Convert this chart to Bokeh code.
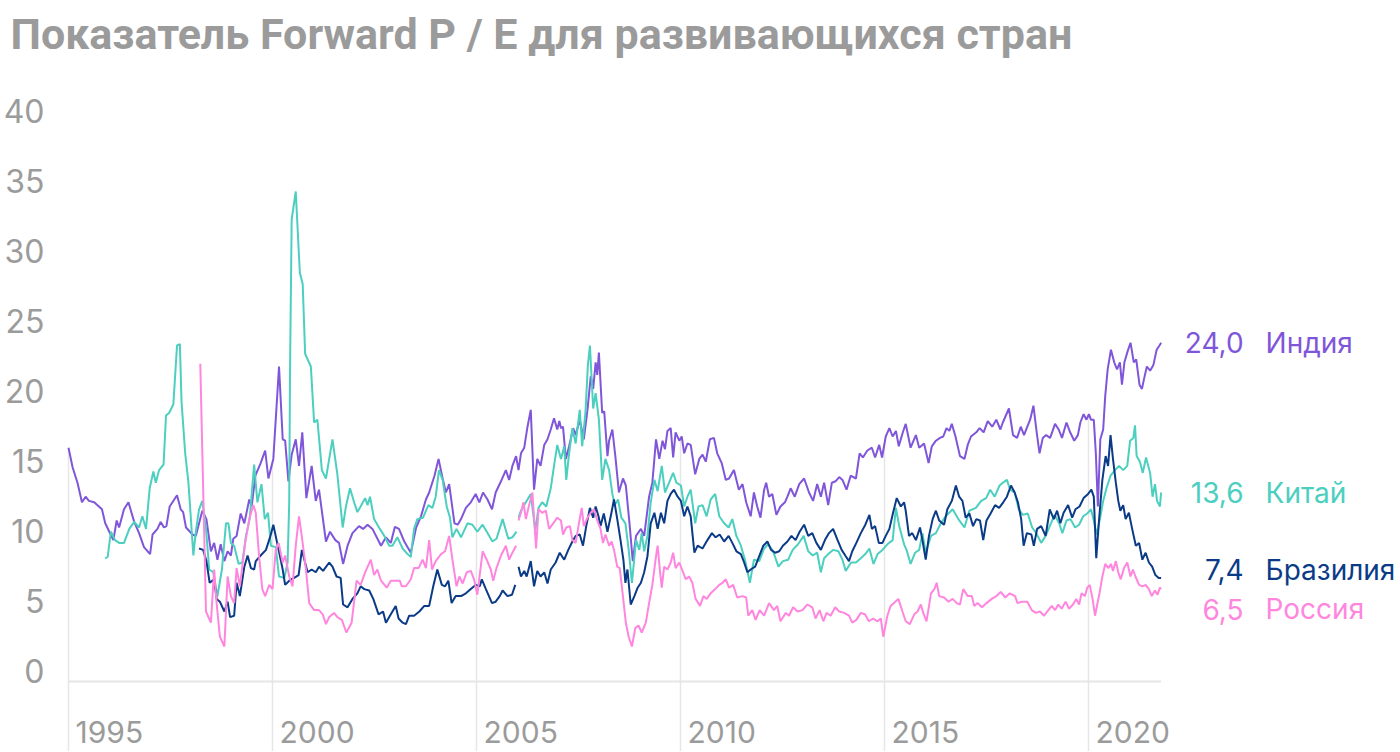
import numpy as np
from bokeh.plotting import figure
from bokeh.models import Range1d, LinearAxis, FixedTicker
from bokeh.core.properties import value
from bokeh.embed import file_html
from bokeh.resources import INLINE

nan = float("nan")

# ---------------- data (decimal year, forward P/E) ----------------
INDIA = [
    (1995.00, 16.7), (1995.10, 15.3), (1995.22, 14.2), (1995.33, 12.8), (1995.42, 13.2), (1995.50, 12.9),
    (1995.63, 12.8), (1995.82, 12.3), (1995.90, 11.3), (1996.00, 10.7), (1996.10, 10.1), (1996.18, 11.5),
    (1996.24, 11.0), (1996.36, 12.3), (1996.47, 12.8), (1996.61, 11.4), (1996.73, 10.6), (1996.85, 9.6),
    (1997.00, 9.1), (1997.06, 10.5), (1997.18, 10.9), (1997.26, 11.4), (1997.34, 11.0), (1997.40, 11.1),
    (1997.48, 12.5), (1997.66, 13.3), (1997.75, 12.3), (1997.81, 12.1), (1997.88, 11.0), (1998.04, 10.5),
    (1998.12, 10.4), (1998.28, 12.2), (1998.38, 11.6), (1998.49, 9.3), (1998.57, 9.9), (1998.65, 8.7),
    (1998.73, 9.8), (1998.82, 8.6), (1998.90, 9.3), (1998.98, 9.0), (1999.04, 10.2), (1999.12, 10.4),
    (1999.22, 12.0), (1999.31, 11.3), (1999.43, 13.0), (1999.49, 12.5), (1999.58, 14.7), (1999.71, 15.6),
    (1999.82, 16.5), (1999.90, 14.5), (2000.02, 15.9), (2000.16, 22.5), (2000.25, 17.3), (2000.31, 17.2),
    (2000.39, 14.3), (2000.47, 16.2), (2000.57, 17.3), (2000.65, 15.4), (2000.73, 17.8), (2000.83, 13.1),
    (2000.96, 15.4), (2001.06, 12.9), (2001.14, 13.7), (2001.31, 10.0), (2001.41, 10.7), (2001.54, 10.1),
    (2001.63, 9.9), (2001.73, 8.4), (2001.84, 9.7), (2001.96, 10.6), (2002.12, 11.1), (2002.22, 10.9),
    (2002.33, 11.2), (2002.45, 10.9), (2002.66, 9.7), (2002.78, 10.3), (2002.90, 9.9), (2003.00, 11.05),
    (2003.10, 10.9), (2003.23, 10.0), (2003.39, 9.2), (2003.52, 11.0), (2003.64, 11.8), (2003.76, 13.0),
    (2003.84, 13.5), (2003.97, 14.7), (2004.07, 15.9), (2004.17, 14.5), (2004.25, 13.5), (2004.33, 14.1),
    (2004.46, 11.3), (2004.54, 11.2), (2004.62, 11.6), (2004.74, 12.4), (2004.86, 12.8), (2004.98, 13.4),
    (2005.07, 12.8), (2005.16, 13.5), (2005.27, 13.0), (2005.38, 12.3), (2005.47, 13.5), (2005.60, 14.3),
    (2005.72, 15.1), (2005.80, 14.4), (2005.88, 15.4), (2005.97, 16.1), (2006.03, 15.1), (2006.09, 16.3),
    (2006.17, 16.7), (2006.25, 18.2), (2006.33, 19.4), (2006.41, 13.7), (2006.49, 15.9), (2006.57, 15.4),
    (2006.66, 16.9), (2006.74, 17.3), (2006.82, 18.0), (2006.90, 18.8), (2006.98, 18.0), (2007.03, 18.6),
    (2007.07, 18.1), (2007.12, 18.2), (2007.19, 15.9), (2007.27, 16.8), (2007.37, 18.1), (2007.43, 17.6),
    (2007.53, 18.7), (2007.63, 17.3), (2007.72, 19.4), (2007.80, 21.8), (2007.86, 20.9), (2007.92, 22.8),
    (2007.96, 21.9), (2008.00, 23.5), (2008.08, 19.2), (2008.13, 19.3), (2008.21, 16.1), (2008.25, 17.2),
    (2008.33, 18.0), (2008.41, 15.9), (2008.49, 13.5), (2008.59, 14.5), (2008.66, 14.0), (2008.75, 11.3),
    (2008.83, 8.6), (2008.91, 10.4), (2009.03, 10.9), (2009.11, 10.4), (2009.23, 13.2), (2009.31, 14.2),
    (2009.40, 17.3), (2009.48, 15.9), (2009.56, 17.2), (2009.62, 16.6), (2009.68, 17.9), (2009.76, 18.1),
    (2009.82, 16.0), (2009.88, 17.8), (2009.97, 17.2), (2010.03, 17.5), (2010.09, 16.3), (2010.17, 17.0),
    (2010.25, 16.9), (2010.36, 14.8), (2010.46, 15.9), (2010.54, 16.2), (2010.62, 15.7), (2010.72, 17.3),
    (2010.82, 17.4), (2010.90, 16.3), (2011.01, 15.6), (2011.11, 14.4), (2011.19, 14.5), (2011.31, 15.1),
    (2011.43, 13.7), (2011.52, 14.1), (2011.61, 12.8), (2011.72, 11.8), (2011.80, 13.5), (2011.88, 12.5),
    (2011.96, 11.7), (2012.05, 13.7), (2012.10, 14.2), (2012.17, 13.2), (2012.25, 13.4), (2012.35, 11.9),
    (2012.45, 12.5), (2012.56, 12.8), (2012.62, 13.2), (2012.70, 13.8), (2012.80, 13.2), (2012.91, 14.1),
    (2013.03, 14.5), (2013.15, 13.5), (2013.25, 12.9), (2013.35, 14.1), (2013.44, 13.2), (2013.52, 14.2),
    (2013.62, 12.6), (2013.71, 14.2), (2013.80, 14.3), (2013.89, 14.6), (2013.97, 14.4), (2014.07, 13.7),
    (2014.17, 14.7), (2014.30, 14.5), (2014.39, 16.3), (2014.47, 16.0), (2014.58, 16.5), (2014.69, 16.7),
    (2014.77, 16.0), (2014.87, 16.9), (2014.94, 16.0), (2015.03, 17.5), (2015.12, 18.1), (2015.20, 17.5),
    (2015.28, 17.9), (2015.35, 16.8), (2015.45, 17.8), (2015.52, 18.4), (2015.64, 16.7), (2015.77, 17.6),
    (2015.85, 16.7), (2015.97, 17.0), (2016.08, 15.6), (2016.16, 16.8), (2016.26, 17.2), (2016.36, 17.4),
    (2016.44, 17.5), (2016.52, 18.1), (2016.59, 17.9), (2016.65, 18.4), (2016.74, 17.5), (2016.85, 16.1),
    (2016.96, 15.9), (2017.04, 16.9), (2017.12, 17.5), (2017.25, 17.8), (2017.33, 18.1), (2017.43, 17.8),
    (2017.53, 18.6), (2017.64, 18.2), (2017.74, 18.7), (2017.84, 18.0), (2017.90, 18.5), (2018.05, 19.5),
    (2018.15, 17.6), (2018.25, 17.4), (2018.34, 18.2), (2018.42, 17.6), (2018.50, 18.2), (2018.57, 18.7),
    (2018.65, 19.7), (2018.73, 17.8), (2018.80, 16.3), (2018.88, 17.4), (2018.96, 17.6), (2019.06, 17.4),
    (2019.18, 18.4), (2019.27, 18.0), (2019.35, 17.4), (2019.46, 18.5), (2019.55, 17.8), (2019.65, 17.2),
    (2019.74, 17.6), (2019.80, 18.5), (2019.88, 19.1), (2019.95, 18.7), (2020.01, 19.1), (2020.06, 18.7),
    (2020.13, 18.7), (2020.18, 16.3), (2020.23, 12.5), (2020.29, 17.3), (2020.36, 18.0), (2020.41, 20.4),
    (2020.47, 22.3), (2020.55, 23.7), (2020.63, 22.8), (2020.70, 22.3), (2020.77, 22.8), (2020.82, 21.2),
    (2020.88, 22.8), (2020.96, 23.6), (2021.03, 24.2), (2021.11, 22.8), (2021.17, 23.0), (2021.25, 21.2),
    (2021.31, 20.9), (2021.36, 21.6), (2021.43, 22.5), (2021.51, 22.2), (2021.59, 22.6), (2021.67, 23.7),
    (2021.74, 24.0), (2021.78, 24.2),
]

CHINA = [
    (1995.90, 8.8), (1995.96, 8.9), (1996.04, 10.7), (1996.14, 10.1), (1996.24, 9.9), (1996.36, 9.9),
    (1996.49, 10.9), (1996.61, 11.4), (1996.73, 11.0), (1996.81, 11.8), (1996.90, 10.9), (1996.99, 13.8),
    (1997.08, 15.0), (1997.14, 14.2), (1997.22, 15.1), (1997.33, 15.5), (1997.39, 19.0), (1997.47, 19.2),
    (1997.57, 19.8), (1997.66, 24.0), (1997.73, 24.1), (1997.77, 20.0), (1997.86, 16.3), (1997.94, 14.2),
    (1998.06, 9.0), (1998.12, 10.7), (1998.20, 12.3), (1998.28, 12.9), (1998.37, 10.9), (1998.45, 8.0),
    (1998.55, 7.8), (1998.65, 6.1), (1998.76, 8.0), (1998.86, 11.3), (1998.92, 11.3), (1998.98, 9.9),
    (1999.06, 9.7), (1999.17, 8.4), (1999.26, 8.5), (1999.35, 10.4), (1999.44, 11.6), (1999.55, 15.5),
    (1999.63, 12.8), (1999.73, 14.1), (1999.81, 11.6), (1999.89, 12.05), (1999.96, 9.7), (2000.08, 9.6),
    (2000.16, 7.5), (2000.29, 7.4), (2000.37, 8.5), (2000.41, 12.8), (2000.43, 22.3), (2000.47, 33.0),
    (2000.57, 35.0), (2000.67, 29.2), (2000.74, 28.4), (2000.80, 23.4), (2000.94, 22.5), (2001.02, 18.5),
    (2001.10, 18.7), (2001.21, 15.1), (2001.31, 14.5), (2001.39, 15.9), (2001.47, 17.3), (2001.59, 14.8),
    (2001.72, 11.0), (2001.80, 12.5), (2001.90, 13.8), (2002.00, 12.8), (2002.08, 12.1), (2002.16, 12.5),
    (2002.27, 13.1), (2002.33, 12.6), (2002.39, 13.2), (2002.49, 11.6), (2002.61, 11.0), (2002.74, 10.4),
    (2002.86, 9.7), (2002.94, 9.7), (2003.06, 10.3), (2003.19, 9.5), (2003.31, 9.1), (2003.39, 8.9),
    (2003.47, 10.9), (2003.55, 11.6), (2003.69, 11.7), (2003.82, 12.6), (2003.92, 12.4), (2004.00, 13.2),
    (2004.08, 15.1), (2004.17, 14.4), (2004.27, 12.5), (2004.35, 11.7), (2004.41, 10.3), (2004.51, 10.9),
    (2004.62, 10.3), (2004.78, 11.3), (2004.90, 11.2), (2005.02, 10.7), (2005.15, 11.2), (2005.27, 10.6),
    (2005.39, 10.0), (2005.49, 10.2), (2005.64, 11.6), (2005.78, 10.2), (2005.88, 10.3), (2005.98, 10.7),
    (2006.00, nan),
    (2006.03, 11.7), (2006.09, 12.2), (2006.17, 12.6), (2006.25, 13.0), (2006.33, 13.4), (2006.44, 10.8),
    (2006.52, 12.4), (2006.61, 12.8), (2006.71, 12.5), (2006.82, 13.8), (2006.90, 15.4), (2006.98, 16.9),
    (2007.07, 15.9), (2007.15, 16.8), (2007.20, 14.4), (2007.27, 16.3), (2007.35, 18.1), (2007.43, 17.0),
    (2007.53, 19.4), (2007.59, 16.8), (2007.67, 19.2), (2007.73, 22.6), (2007.78, 24.0), (2007.86, 19.5),
    (2007.92, 20.6), (2008.00, 18.7), (2008.08, 14.4), (2008.16, 15.9), (2008.25, 15.1), (2008.33, 13.4),
    (2008.39, 12.6), (2008.47, 13.0), (2008.55, 11.7), (2008.65, 11.3), (2008.73, 9.4), (2008.81, 7.05),
    (2008.91, 10.1), (2008.99, 9.4), (2009.05, 10.6), (2009.11, 9.3), (2009.19, 10.4), (2009.27, 12.8),
    (2009.36, 14.4), (2009.44, 13.6), (2009.54, 15.4), (2009.62, 13.5), (2009.72, 14.2), (2009.82, 14.9),
    (2009.90, 14.2), (2010.01, 14.0), (2010.09, 12.5), (2010.17, 13.2), (2010.25, 13.7), (2010.36, 11.3),
    (2010.44, 12.5), (2010.54, 12.6), (2010.64, 11.8), (2010.74, 13.0), (2010.85, 13.4), (2010.95, 11.8),
    (2011.07, 11.3), (2011.18, 11.0), (2011.27, 11.6), (2011.37, 10.4), (2011.48, 9.7), (2011.58, 8.7),
    (2011.70, 7.05), (2011.80, 8.7), (2011.93, 8.6), (2012.05, 9.5), (2012.15, 9.8), (2012.27, 9.3),
    (2012.40, 8.2), (2012.51, 8.6), (2012.64, 8.7), (2012.75, 9.4), (2012.88, 9.8), (2013.02, 10.4),
    (2013.13, 9.3), (2013.24, 9.0), (2013.35, 9.2), (2013.44, 7.8), (2013.52, 8.8), (2013.62, 9.1),
    (2013.74, 9.4), (2013.87, 9.3), (2013.97, 8.7), (2014.05, 7.9), (2014.18, 8.5), (2014.30, 8.5),
    (2014.42, 8.8), (2014.53, 9.1), (2014.63, 9.5), (2014.73, 8.4), (2014.83, 9.1), (2014.95, 9.4),
    (2015.07, 9.8), (2015.20, 10.1), (2015.28, 12.4), (2015.36, 11.1), (2015.48, 9.8), (2015.54, 9.4),
    (2015.64, 8.4), (2015.75, 9.2), (2015.85, 9.4), (2015.93, 10.6), (2016.01, 9.2), (2016.14, 10.4),
    (2016.26, 10.6), (2016.38, 11.3), (2016.50, 11.8), (2016.67, 12.3), (2016.81, 11.6), (2016.96, 11.0),
    (2017.08, 12.2), (2017.24, 12.4), (2017.37, 12.9), (2017.49, 13.1), (2017.59, 13.7), (2017.70, 13.2),
    (2017.82, 14.0), (2017.90, 14.2), (2018.00, 14.4), (2018.08, 13.7), (2018.19, 13.5), (2018.29, 12.3),
    (2018.39, 11.9), (2018.51, 12.0), (2018.62, 11.0), (2018.72, 10.6), (2018.84, 9.9), (2018.95, 10.4),
    (2019.05, 11.1), (2019.17, 11.9), (2019.28, 11.3), (2019.36, 10.6), (2019.46, 11.5), (2019.56, 11.6),
    (2019.67, 11.0), (2019.77, 11.2), (2019.87, 11.8), (2019.97, 12.0), (2020.06, 12.3), (2020.12, 11.6),
    (2020.20, 10.5), (2020.28, 11.6), (2020.36, 12.9), (2020.44, 13.8), (2020.54, 14.7), (2020.65, 15.1),
    (2020.75, 15.4), (2020.85, 15.1), (2020.95, 15.4), (2021.02, 17.2), (2021.10, 17.4), (2021.14, 18.3),
    (2021.18, 16.1), (2021.26, 15.7), (2021.33, 14.9), (2021.41, 16.0), (2021.51, 14.9), (2021.57, 13.2),
    (2021.63, 14.1), (2021.68, 12.9), (2021.75, 12.5), (2021.78, 13.5),
]

BRAZIL = [
    (1998.20, 9.5), (1998.30, 9.4), (1998.38, 8.6), (1998.46, 7.05), (1998.57, 7.3), (1998.63, 5.9),
    (1998.71, 5.7), (1998.82, 5.0), (1998.90, 5.7), (1998.96, 4.6), (1999.06, 4.7), (1999.12, 7.05),
    (1999.20, 6.1), (1999.31, 8.2), (1999.39, 9.0), (1999.47, 8.1), (1999.55, 8.0), (1999.59, 8.6),
    (1999.71, 9.0), (1999.84, 9.4), (1999.96, 10.5), (2000.02, 11.2), (2000.15, 9.4), (2000.25, 8.0),
    (2000.31, 6.9), (2000.41, 7.2), (2000.53, 7.4), (2000.64, 7.6), (2000.72, 9.4), (2000.86, 7.8),
    (2000.96, 8.0), (2001.06, 7.8), (2001.14, 8.2), (2001.24, 7.9), (2001.39, 8.5), (2001.47, 8.2),
    (2001.57, 7.5), (2001.67, 7.4), (2001.73, 5.5), (2001.84, 5.3), (2001.96, 5.9), (2002.08, 6.3),
    (2002.16, 6.8), (2002.25, 6.6), (2002.37, 6.5), (2002.47, 5.9), (2002.60, 4.8), (2002.71, 5.0),
    (2002.78, 4.2), (2002.90, 4.8), (2003.02, 5.4), (2003.09, 4.5), (2003.19, 4.2), (2003.27, 4.1),
    (2003.35, 4.7), (2003.47, 4.7), (2003.60, 5.0), (2003.72, 5.4), (2003.84, 5.4), (2003.94, 6.8),
    (2004.04, 8.0), (2004.15, 6.9), (2004.23, 6.8), (2004.31, 7.2), (2004.39, 5.6), (2004.49, 6.1),
    (2004.62, 6.1), (2004.74, 6.3), (2004.86, 6.6), (2004.98, 6.9), (2005.08, 6.8), (2005.13, 7.3),
    (2005.23, 6.6), (2005.38, 5.6), (2005.47, 5.7), (2005.57, 6.1), (2005.64, 6.5), (2005.76, 6.1),
    (2005.87, 6.2), (2005.95, 6.9),
    (2006.00, nan),
    (2006.03, 8.2), (2006.09, 7.5), (2006.17, 7.9), (2006.23, 7.5), (2006.33, 8.6), (2006.41, 6.8),
    (2006.49, 7.9), (2006.57, 7.5), (2006.66, 7.8), (2006.74, 7.0), (2006.82, 8.0), (2006.94, 8.5),
    (2007.04, 9.2), (2007.15, 8.7), (2007.25, 9.4), (2007.35, 10.0), (2007.43, 10.4), (2007.53, 10.5),
    (2007.61, 9.7), (2007.69, 11.1), (2007.78, 12.4), (2007.86, 11.7), (2007.92, 12.5), (2007.99, 11.8),
    (2008.04, 11.1), (2008.12, 12.0), (2008.21, 10.7), (2008.29, 11.8), (2008.37, 13.0), (2008.45, 11.6),
    (2008.53, 10.1), (2008.60, 8.7), (2008.65, 7.05), (2008.70, 8.0), (2008.78, 5.5), (2008.87, 6.1),
    (2008.95, 6.7), (2009.03, 7.05), (2009.11, 7.8), (2009.19, 8.95), (2009.27, 11.3), (2009.36, 12.05),
    (2009.44, 10.9), (2009.52, 12.05), (2009.60, 11.3), (2009.68, 12.9), (2009.76, 13.4), (2009.84, 13.7),
    (2009.93, 13.2), (2010.01, 12.9), (2010.09, 11.8), (2010.17, 12.5), (2010.25, 11.8), (2010.34, 9.2),
    (2010.42, 9.7), (2010.54, 9.5), (2010.66, 10.1), (2010.77, 10.6), (2010.86, 10.3), (2010.96, 10.5),
    (2011.07, 10.0), (2011.18, 10.4), (2011.27, 9.9), (2011.37, 9.3), (2011.48, 9.1), (2011.56, 8.5),
    (2011.64, 7.8), (2011.72, 8.0), (2011.83, 8.2), (2011.93, 8.95), (2012.03, 9.7), (2012.13, 10.0),
    (2012.22, 9.4), (2012.32, 9.2), (2012.42, 9.3), (2012.51, 9.7), (2012.62, 10.0), (2012.72, 10.4),
    (2012.82, 10.1), (2012.92, 10.7), (2013.03, 11.2), (2013.13, 10.4), (2013.23, 10.6), (2013.33, 9.9),
    (2013.44, 9.4), (2013.54, 10.1), (2013.64, 10.6), (2013.74, 10.9), (2013.85, 10.1), (2013.95, 9.4),
    (2014.05, 8.95), (2014.13, 8.6), (2014.21, 9.3), (2014.31, 9.9), (2014.42, 10.6), (2014.53, 11.2),
    (2014.63, 11.9), (2014.69, 10.9), (2014.77, 11.1), (2014.86, 9.9), (2014.95, 9.9), (2015.03, 10.4),
    (2015.12, 10.9), (2015.21, 12.05), (2015.30, 13.1), (2015.40, 12.5), (2015.48, 12.8), (2015.52, 12.2),
    (2015.60, 10.4), (2015.68, 10.6), (2015.77, 10.1), (2015.87, 11.0), (2015.93, 10.1), (2016.01, 8.7),
    (2016.09, 10.4), (2016.18, 11.6), (2016.26, 12.2), (2016.34, 11.5), (2016.46, 11.2), (2016.54, 12.3),
    (2016.65, 12.9), (2016.75, 14.0), (2016.83, 13.2), (2016.91, 12.9), (2016.99, 11.7), (2017.08, 12.0),
    (2017.17, 11.1), (2017.25, 11.6), (2017.34, 11.5), (2017.42, 10.1), (2017.50, 11.5), (2017.60, 12.0),
    (2017.71, 12.6), (2017.81, 12.4), (2017.91, 12.8), (2018.00, 13.2), (2018.10, 14.0), (2018.19, 13.5),
    (2018.27, 12.8), (2018.35, 11.6), (2018.41, 9.7), (2018.49, 10.6), (2018.60, 10.5), (2018.66, 9.7),
    (2018.74, 10.9), (2018.84, 11.1), (2018.95, 10.4), (2019.05, 12.3), (2019.15, 11.6), (2019.23, 12.2),
    (2019.31, 11.3), (2019.39, 12.05), (2019.50, 12.6), (2019.60, 11.7), (2019.68, 12.3), (2019.78, 12.5),
    (2019.88, 13.1), (2019.99, 13.4), (2020.07, 13.7), (2020.13, 13.2), (2020.19, 8.8), (2020.26, 11.6),
    (2020.34, 14.4), (2020.42, 16.1), (2020.48, 15.4), (2020.54, 17.6), (2020.60, 15.9), (2020.67, 14.2),
    (2020.73, 12.9), (2020.78, 12.2), (2020.85, 12.6), (2020.91, 11.6), (2020.99, 12.05), (2021.07, 10.9),
    (2021.16, 9.7), (2021.24, 9.9), (2021.32, 8.7), (2021.40, 9.2), (2021.48, 8.5), (2021.56, 8.2),
    (2021.64, 7.6), (2021.72, 7.4), (2021.78, 7.4),
]

RUSSIA = [
    (1998.23, 22.7), (1998.37, 5.0), (1998.49, 4.2), (1998.57, 8.0), (1998.63, 5.6), (1998.71, 3.2),
    (1998.82, 2.5), (1998.90, 7.5), (1998.98, 6.1), (1999.06, 5.6), (1999.12, 8.1), (1999.20, 6.8),
    (1999.26, 8.2), (1999.33, 9.9), (1999.43, 11.6), (1999.53, 12.6), (1999.59, 12.05), (1999.67, 9.0),
    (1999.75, 6.6), (1999.82, 6.1), (1999.92, 6.9), (2000.00, 6.6), (2000.08, 9.4), (2000.15, 9.9),
    (2000.25, 8.5), (2000.31, 9.0), (2000.41, 7.5), (2000.49, 6.8), (2000.57, 9.7), (2000.65, 11.8),
    (2000.73, 10.1), (2000.82, 8.0), (2000.90, 5.6), (2001.02, 5.1), (2001.14, 5.1), (2001.23, 4.8),
    (2001.31, 4.1), (2001.39, 4.6), (2001.51, 4.9), (2001.59, 4.6), (2001.70, 4.4), (2001.81, 3.5),
    (2001.94, 4.2), (2002.06, 7.2), (2002.16, 6.9), (2002.27, 7.8), (2002.41, 8.7), (2002.49, 7.6),
    (2002.57, 8.0), (2002.66, 7.2), (2002.80, 6.7), (2002.90, 7.2), (2003.02, 7.2), (2003.12, 7.2),
    (2003.17, 6.8), (2003.27, 6.8), (2003.39, 7.3), (2003.47, 8.1), (2003.58, 8.1), (2003.68, 8.7),
    (2003.76, 8.1), (2003.84, 10.1), (2003.91, 8.0), (2004.00, 8.6), (2004.13, 9.1), (2004.23, 9.3),
    (2004.33, 10.4), (2004.41, 8.7), (2004.51, 6.8), (2004.58, 7.5), (2004.66, 7.0), (2004.76, 7.8),
    (2004.86, 7.9), (2004.94, 7.3), (2005.02, 6.2), (2005.15, 9.3), (2005.25, 8.7), (2005.35, 8.0),
    (2005.41, 7.2), (2005.49, 8.1), (2005.60, 9.0), (2005.72, 9.7), (2005.80, 8.7), (2005.88, 9.2),
    (2005.97, 9.7),
    (2006.00, nan),
    (2006.03, 11.5), (2006.09, 12.05), (2006.15, 12.8), (2006.21, 11.6), (2006.29, 12.6), (2006.37, 13.5),
    (2006.46, 9.5), (2006.52, 12.3), (2006.61, 12.05), (2006.70, 12.2), (2006.78, 10.9), (2006.88, 11.3),
    (2006.98, 11.7), (2007.07, 11.5), (2007.12, 10.5), (2007.20, 11.0), (2007.29, 11.1), (2007.35, 10.1),
    (2007.43, 9.9), (2007.51, 11.3), (2007.58, 12.4), (2007.63, 11.1), (2007.72, 11.7), (2007.80, 12.05),
    (2007.88, 12.3), (2007.96, 11.5), (2008.04, 10.9), (2008.10, 9.9), (2008.16, 10.5), (2008.25, 9.7),
    (2008.31, 10.0), (2008.37, 9.4), (2008.45, 8.2), (2008.51, 8.1), (2008.57, 6.6), (2008.66, 4.2),
    (2008.73, 3.2), (2008.81, 2.5), (2008.89, 3.8), (2008.97, 4.0), (2009.05, 3.5), (2009.15, 4.2),
    (2009.23, 5.6), (2009.31, 6.9), (2009.40, 8.95), (2009.44, 9.7), (2009.49, 8.1), (2009.54, 6.7),
    (2009.60, 8.2), (2009.68, 8.0), (2009.76, 8.5), (2009.82, 9.2), (2009.88, 8.1), (2009.97, 8.5),
    (2010.05, 7.9), (2010.13, 7.3), (2010.21, 7.5), (2010.29, 7.05), (2010.37, 5.9), (2010.48, 5.4),
    (2010.56, 6.1), (2010.64, 5.9), (2010.74, 6.3), (2010.85, 6.6), (2010.95, 6.9), (2011.03, 7.05),
    (2011.11, 7.3), (2011.19, 6.7), (2011.29, 6.9), (2011.39, 6.0), (2011.52, 6.1), (2011.61, 6.0),
    (2011.66, 4.7), (2011.76, 5.1), (2011.84, 4.4), (2011.94, 5.1), (2012.05, 4.7), (2012.17, 5.6),
    (2012.29, 5.1), (2012.37, 5.4), (2012.45, 4.3), (2012.58, 4.9), (2012.66, 4.7), (2012.76, 5.3),
    (2012.87, 5.0), (2012.99, 5.1), (2013.11, 5.5), (2013.23, 5.3), (2013.31, 4.5), (2013.41, 5.1),
    (2013.50, 4.3), (2013.58, 4.9), (2013.68, 4.7), (2013.79, 5.3), (2013.89, 5.0), (2014.01, 4.9),
    (2014.13, 4.7), (2014.21, 4.2), (2014.31, 4.4), (2014.42, 4.9), (2014.52, 4.8), (2014.62, 4.3),
    (2014.72, 4.5), (2014.83, 4.3), (2014.91, 4.5), (2014.97, 3.2), (2015.07, 4.7), (2015.15, 5.4),
    (2015.23, 5.6), (2015.34, 5.9), (2015.44, 5.0), (2015.52, 4.3), (2015.62, 4.1), (2015.73, 4.8),
    (2015.81, 5.0), (2015.89, 5.5), (2015.95, 4.9), (2016.03, 4.3), (2016.14, 6.3), (2016.22, 6.6),
    (2016.28, 7.05), (2016.34, 6.1), (2016.46, 6.0), (2016.57, 5.7), (2016.67, 5.9), (2016.77, 5.6),
    (2016.85, 5.5), (2016.93, 6.6), (2017.04, 6.1), (2017.14, 6.1), (2017.20, 5.4), (2017.28, 5.6),
    (2017.39, 5.3), (2017.50, 5.6), (2017.63, 5.9), (2017.74, 6.1), (2017.85, 6.4), (2017.96, 6.0),
    (2018.07, 6.3), (2018.20, 6.1), (2018.26, 5.6), (2018.37, 5.7), (2018.50, 5.7), (2018.61, 5.1),
    (2018.71, 4.9), (2018.81, 5.0), (2018.91, 4.7), (2018.99, 5.0), (2019.10, 5.4), (2019.18, 5.1),
    (2019.26, 5.5), (2019.34, 5.2), (2019.44, 5.7), (2019.52, 5.2), (2019.62, 5.5), (2019.70, 5.9),
    (2019.77, 5.5), (2019.83, 6.3), (2019.91, 6.1), (2019.97, 6.7), (2020.03, 6.9), (2020.10, 5.9),
    (2020.16, 4.7), (2020.22, 5.6), (2020.27, 6.3), (2020.34, 7.5), (2020.41, 8.4), (2020.49, 8.1),
    (2020.55, 8.4), (2020.60, 7.9), (2020.67, 8.6), (2020.73, 7.8), (2020.79, 7.3), (2020.87, 8.1),
    (2020.95, 8.5), (2021.03, 7.5), (2021.09, 8.0), (2021.15, 7.5), (2021.24, 6.9), (2021.32, 6.8),
    (2021.40, 6.9), (2021.48, 6.6), (2021.55, 6.1), (2021.63, 6.5), (2021.69, 6.2), (2021.75, 6.7),
    (2021.78, 6.6),
]

YEAR_TICKS = [1995, 2000, 2005, 2010, 2015, 2020]
YEAR_LABELS = ["1995", "2000", "2005", "2010", "2015", "2020"]
PE_TICKS = [0, 5, 10, 15, 20, 25, 30, 35, 40]
COUNTRIES = ["Индия", "Китай", "Бразилия", "Россия"]
LAST_VALUES = ["24,0", "13,6", "7,4", "6,5"]
TITLE = "Показатель Forward P / E для развивающихся стран"

# ---------------- style / layout ----------------
COLORS = ["#7f56d9", "#4ccfbf", "#0b3b87", "#ff86de"]
GRAY = "#9b9b9b"
RULE = "#e6e6e6"
PX_YEAR = 40.8          # pixels per year
PX_UNIT = 14.0          # pixels per P/E unit
FRAME_W = 1348
FRAME_H = 686
LEFT = 44
X_START = 1995 - 14 / PX_YEAR
Y_START = -5.0
LABEL_SHIFT = 0.75      # y tick labels sit slightly above their value
LABEL_BASE = [24.2, 13.5, 8.0, 5.15]   # baselines of the end labels
VALUE_X = 2023.80
NAME_X = 2024.34
XLABEL_BASE = -3.6


def split(series):
    xs = np.array([a for a, b in series], dtype=float)
    ys = np.array([b for a, b in series], dtype=float)
    return xs, ys


SERIES = [split(s) for s in (INDIA, CHINA, BRAZIL, RUSSIA)]

p = figure(
    frame_width=FRAME_W, frame_height=FRAME_H,
    x_range=Range1d(X_START, X_START + FRAME_W / PX_YEAR),
    y_range=Range1d(Y_START, Y_START + FRAME_H / PX_UNIT),
    x_axis_location=None, y_axis_location=None,
    output_backend="svg", toolbar_location=None,
    min_border_left=LEFT, min_border_right=0, min_border_top=0, min_border_bottom=0,
    title=TITLE,
)
p.outline_line_color = None
p.grid.visible = False
p.background_fill_color = "white"
p.border_fill_color = "white"

p.title.text_font = "Roboto"
p.title.text_font_style = "bold"
p.title.text_font_size = "43px"
p.title.text_color = GRAY
p.title.align = "left"
p.title.offset = -LEFT
p.title.standoff = 13
p.title.text_line_height = 0.8

# y axis (labels shifted upward by a fixed amount via an offset range)
p.extra_y_ranges = {"lab": Range1d(Y_START - LABEL_SHIFT, Y_START + FRAME_H / PX_UNIT - LABEL_SHIFT)}
yax = LinearAxis(y_range_name="lab", ticker=FixedTicker(ticks=PE_TICKS))
yax.axis_line_color = None
yax.major_tick_line_color = None
yax.minor_tick_line_color = None
yax.major_label_text_font = "Inter"
yax.major_label_text_font_size = "32px"
yax.major_label_text_color = GRAY
yax.major_label_standoff = 4
p.add_layout(yax, "left")

# vertical rules at the year ticks, from the bottom up to the top-most line
tops = []
for yr in YEAR_TICKS:
    vals = []
    for xs, ys in SERIES:
        ok = ~np.isnan(ys)
        if xs[ok].min() <= yr <= xs[ok].max():
            vals.append(np.interp(yr, xs[ok], ys[ok]))
    tops.append(max(vals))
p.segment(x0=YEAR_TICKS, y0=[Y_START] * len(YEAR_TICKS), x1=YEAR_TICKS, y1=tops,
          line_color=RULE, line_width=1.5)

# baseline
last_x = max(xs[~np.isnan(ys)].max() for xs, ys in SERIES)
p.segment(x0=[YEAR_TICKS[0]], y0=[0], x1=[last_x], y1=[0], line_color=RULE, line_width=2)

# year labels
p.text(x=YEAR_TICKS, y=[XLABEL_BASE] * len(YEAR_TICKS), text=YEAR_LABELS,
       x_offset=7, text_align="left", text_baseline="alphabetic",
       text_font=value("Inter"), text_font_size="30px", text_color=GRAY)

# series
for (xs, ys), col in zip(SERIES, COLORS):
    p.line(xs, ys, line_color=col, line_width=2)

# end labels
p.text(x=[VALUE_X] * 4, y=LABEL_BASE, text=LAST_VALUES, text_align="right",
       text_baseline="alphabetic", text_font=value("Inter"), text_font_size="28px",
       text_color=COLORS)
p.text(x=[NAME_X] * 4, y=LABEL_BASE, text=COUNTRIES, text_align="left",
       text_baseline="alphabetic", text_font=value("Inter"), text_font_size="28px",
       text_color=COLORS)

open("out.html", "w").write(file_html(p, INLINE))
